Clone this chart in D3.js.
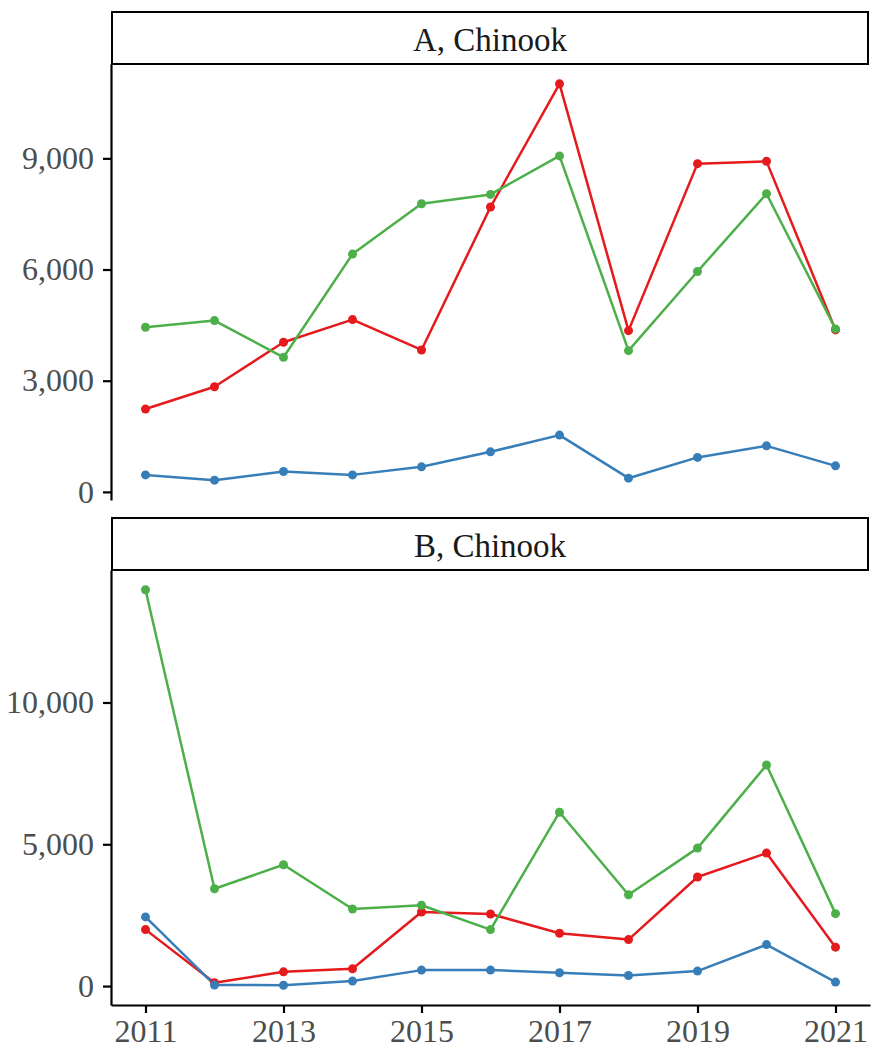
<!DOCTYPE html>
<html>
<head>
<meta charset="utf-8">
<script src="https://cdn.jsdelivr.net/npm/d3@7"></script>
<style>
  html, body { margin: 0; padding: 0; background: #ffffff; }
  svg { display: block; }
</style>
</head>
<body>
<svg id="chart" width="871" height="1051"></svg>
<script>
// ---- Data ----
const years = [2011, 2012, 2013, 2014, 2015, 2016, 2017, 2018, 2019, 2020, 2021];
const panelLabels = ["A, Chinook", "B, Chinook"];
const xTickValues = [2011, 2013, 2015, 2017, 2019, 2021];
const yTicksA = [0, 3000, 6000, 9000];
const yTicksB = [0, 5000, 10000];

// Panel A series
const aRed   = [2235, 2838, 4038, 4649, 3830, 7686, 11011, 4351, 8857, 8919, 4370];
const aGreen = [4443, 4622, 3632, 6416, 7776, 8027, 9065, 3811, 5946, 8046, 4397];
const aBlue  = [459, 316, 551, 459, 676, 1081, 1532, 370, 930, 1243, 703];

// Panel B series
const bRed   = [1991, 116, 503, 609, 2613, 2543, 1864, 1639, 3845, 4689, 1372];
const bGreen = [13975, 3433, 4277, 2719, 2849, 1991, 6131, 3222, 4865, 7795, 2554];
const bBlue  = [2438, 40, 30, 176, 563, 563, 468, 373, 528, 1463, 141];

const seriesColors = { red: "#E41A1C", green: "#4DAF4A", blue: "#377EB8" };

// ---- Layout ----
const svg = d3.select("#chart");
const panelX0 = 111, panelX1 = 870;
const stripX0 = 112, stripX1 = 868;
const panels = [
  { label: panelLabels[0], stripTop: 12, top: 64, bottom: 500, ticks: yTicksA,
    series: [["red", aRed], ["green", aGreen], ["blue", aBlue]], showX: false },
  { label: panelLabels[1], stripTop: 518, top: 570, bottom: 1005, ticks: yTicksB,
    series: [["red", bRed], ["green", bGreen], ["blue", bBlue]], showX: true }
];

const x = d3.scaleLinear()
  .domain([years[0] - 0.05 * (years[years.length-1] - years[0]), years[years.length-1] + 0.05 * (years[years.length-1] - years[0])])
  .range([panelX0, panelX1]);

const fontFamily = "'Liberation Serif', 'Times New Roman', serif";

panels.forEach(p => {
  const allVals = p.series.flatMap(s => s[1]);
  const mn = d3.min(allVals), mx = d3.max(allVals);
  const pad = 0.05 * (mx - mn);
  const y = d3.scaleLinear().domain([mn - pad, mx + pad]).range([p.bottom, p.top]);

  // strip
  svg.append("rect")
    .attr("x", stripX0).attr("y", p.stripTop)
    .attr("width", stripX1 - stripX0).attr("height", p.top - p.stripTop)
    .attr("fill", "#ffffff").attr("stroke", "#000000").attr("stroke-width", 2);
  svg.append("text")
    .attr("x", (stripX0 + stripX1) / 2).attr("y", p.stripTop + 38.5)
    .attr("text-anchor", "middle")
    .attr("font-family", fontFamily).attr("font-size", 33)
    .attr("fill", "#1A1A1A")
    .text(p.label);

  // y axis
  const yAxis = d3.axisLeft(y).tickValues(p.ticks).tickSize(8).tickSizeOuter(0)
    .tickPadding(9).tickFormat(d3.format(","));
  const gy = svg.append("g").attr("transform", `translate(${panelX0},0)`).call(yAxis);
  gy.select(".domain").attr("stroke", "#000").attr("stroke-width", 2.2);
  gy.selectAll(".tick line").attr("stroke", "#000").attr("stroke-width", 2.2);
  gy.selectAll(".tick text").attr("font-family", fontFamily).attr("font-size", 32)
    .attr("fill", "#4D4D4D");

  // x axis (bottom panel only)
  if (p.showX) {
    const xAxis = d3.axisBottom(x).tickValues(xTickValues).tickSize(8).tickSizeOuter(0)
      .tickPadding(6).tickFormat(d3.format("d"));
    const gx = svg.append("g").attr("transform", `translate(0,${p.bottom})`).call(xAxis);
    gx.select(".domain").attr("stroke", "#000").attr("stroke-width", 2.2);
    gx.selectAll(".tick line").attr("stroke", "#000").attr("stroke-width", 2.2);
    gx.selectAll(".tick text").attr("font-family", fontFamily).attr("font-size", 32)
      .attr("fill", "#4D4D4D");
  }

  const line = d3.line().x((d, i) => x(years[i])).y(d => y(d));
  const g = svg.append("g");
  p.series.forEach(([c, vals]) => {
    g.append("path").datum(vals)
      .attr("d", line).attr("fill", "none")
      .attr("stroke", seriesColors[c]).attr("stroke-width", 2.5)
      .attr("stroke-linejoin", "round");
  });
  p.series.forEach(([c, vals]) => {
    g.selectAll(null).data(vals).enter().append("circle")
      .attr("cx", (d, i) => x(years[i])).attr("cy", d => y(d))
      .attr("r", 4.5).attr("fill", seriesColors[c]);
  });
});
</script>
</body>
</html>
